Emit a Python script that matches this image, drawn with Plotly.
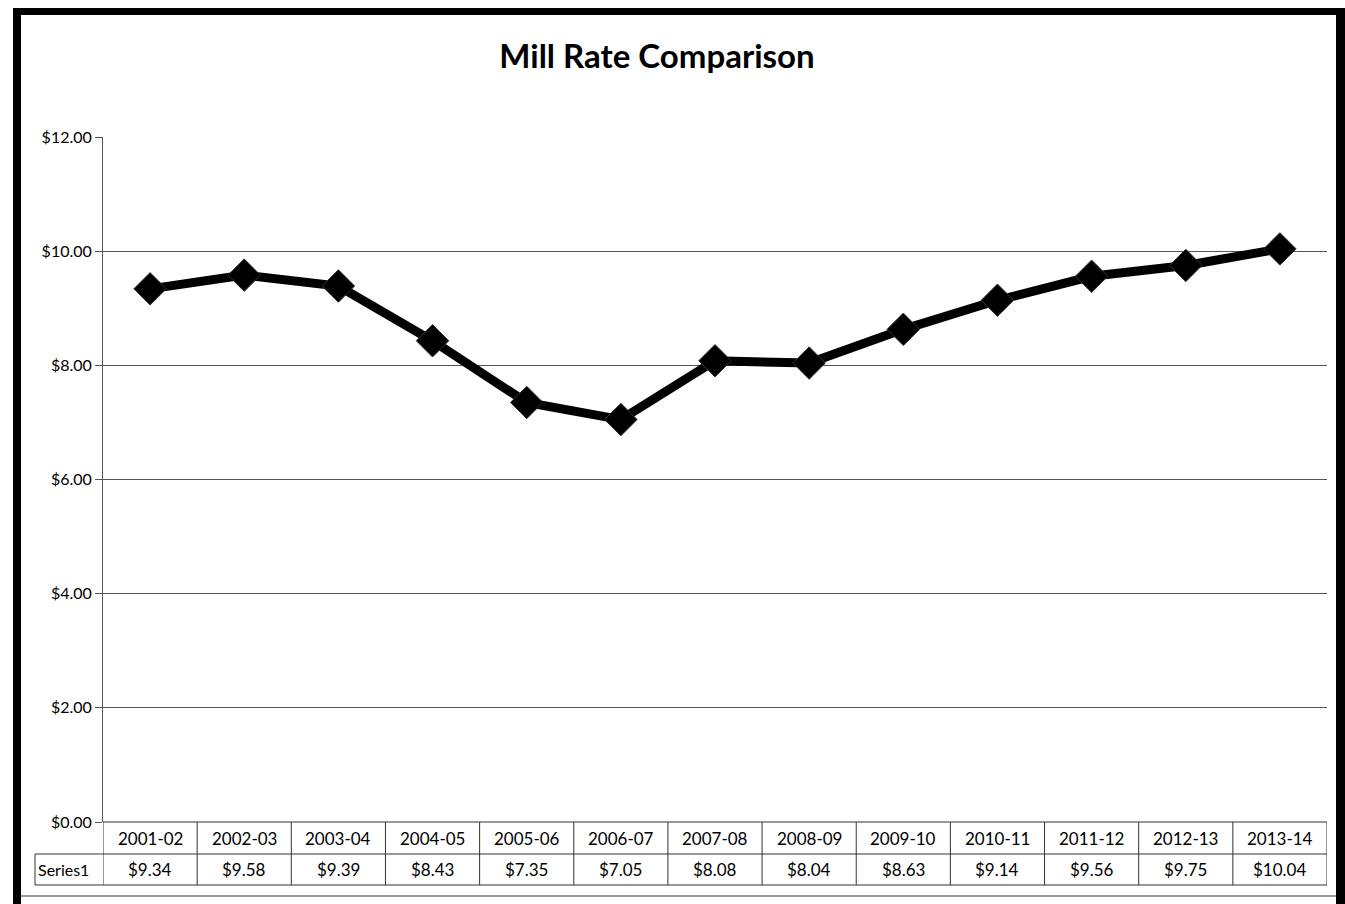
import plotly.graph_objects as go

categories = ["2001-02", "2002-03", "2003-04", "2004-05", "2005-06", "2006-07", "2007-08",
              "2008-09", "2009-10", "2010-11", "2011-12", "2012-13", "2013-14"]
values = [9.34, 9.58, 9.39, 8.43, 7.35, 7.05, 8.08, 8.04, 8.63, 9.14, 9.56, 9.75, 10.04]
series_name = "Series1"
title_text = "Mill Rate Comparison"
y_ticks = [0, 2, 4, 6, 8, 10, 12]

W, H = 1345, 904
L, R, T, B = 103, 18, 137, 82
PW, PH = W - L - R, H - T - B

def px(x):
    return (x - L) / PW

def py(y):
    return (H - B - y) / PH

FONT = "Lato"

fig = go.Figure()
fig.add_trace(go.Scatter(
    x=categories, y=values, mode="lines+markers",
    line=dict(color="black", width=9),
    marker=dict(symbol="diamond", size=25, color="black",
                line=dict(color="#333333", width=1)),
    showlegend=False, hoverinfo="x+y",
))

shapes = []
annotations = []
n = len(categories)
row1_top, row1_bot, row2_bot = H - B, 854, 885
LC = "#333"
shapes.append(dict(type="line", xref="x", yref="paper", x0=-0.5, x1=n - 0.5,
                   y0=py(row1_bot), y1=py(row1_bot), line=dict(color=LC, width=1)))
shapes.append(dict(type="line", xref="x", yref="paper", x0=-0.5, x1=n - 0.5,
                   y0=py(row2_bot), y1=py(row2_bot), line=dict(color=LC, width=1)))
shapes.append(dict(type="line", xref="x", yref="paper", x0=-0.5, x1=n - 0.5,
                   y0=0, y1=0, line=dict(color=LC, width=1)))
shapes.append(dict(type="line", xref="paper", yref="paper", x0=px(35), x1=0,
                   y0=py(row1_bot), y1=py(row1_bot), line=dict(color=LC, width=1)))
shapes.append(dict(type="line", xref="paper", yref="paper", x0=px(35), x1=0,
                   y0=py(row2_bot), y1=py(row2_bot), line=dict(color=LC, width=1)))
shapes.append(dict(type="line", xref="paper", yref="paper", x0=px(35), x1=px(35),
                   y0=py(row1_bot), y1=py(row2_bot), line=dict(color=LC, width=1)))
for k in range(n + 1):
    shapes.append(dict(type="line", xref="x", yref="paper", x0=k - 0.5, x1=k - 0.5,
                       y0=0, y1=py(row2_bot), line=dict(color=LC, width=1)))
for c, v in zip(categories, values):
    annotations.append(dict(x=c, xref="x", yref="paper", y=py((row1_top + row1_bot) / 2),
                            text=c, showarrow=False, font=dict(family=FONT, size=17, color="black"),
                            yanchor="middle"))
    annotations.append(dict(x=c, xref="x", yref="paper", y=py((row1_bot + row2_bot) / 2),
                            text=f"${v:.2f}", showarrow=False,
                            font=dict(family=FONT, size=17, color="black"), yanchor="middle"))
annotations.append(dict(x=px(36), xref="paper", yref="paper", y=py((row1_bot + row2_bot) / 2),
                        text=series_name, showarrow=False, xanchor="left",
                        font=dict(family=FONT, size=16, color="black"), yanchor="middle"))

# outer frame
shapes.append(dict(type="rect", xref="paper", yref="paper", x0=px(13), x1=px(21),
                   y0=py(8), y1=py(904), fillcolor="black", line=dict(width=0)))
shapes.append(dict(type="rect", xref="paper", yref="paper", x0=px(13), x1=px(1345),
                   y0=py(8), y1=py(15), fillcolor="black", line=dict(width=0)))
shapes.append(dict(type="rect", xref="paper", yref="paper", x0=px(1336), x1=px(1345),
                   y0=py(8), y1=py(904), fillcolor="black", line=dict(width=0)))
shapes.append(dict(type="line", xref="paper", yref="paper", x0=px(21), x1=px(1336),
                   y0=py(896), y1=py(896), line=dict(color="#999", width=2)))

fig.update_layout(
    width=W, height=H,
    margin=dict(l=L, r=R, t=T, b=B, pad=0),
    paper_bgcolor="white", plot_bgcolor="white",
    title=dict(text=f"<b>{title_text}</b>", x=657 / W, xanchor="center",
               y=1 - 56 / H, yanchor="middle",
               font=dict(family=FONT, size=33, color="black")),
    xaxis=dict(type="category", range=[-0.5, n - 0.5], showticklabels=False,
               showgrid=False, zeroline=False, showline=False, ticks=""),
    yaxis=dict(range=[0, 12], tickvals=y_ticks, tickformat="$.2f",
               showgrid=True, gridcolor="#555", gridwidth=1,
               zeroline=False, showline=True, linecolor="#555", linewidth=1,
               ticks="outside", ticklen=7, tickcolor="#555",
               tickfont=dict(family=FONT, size=16, color="black")),
    shapes=shapes, annotations=annotations,
    showlegend=False,
)

fig.write_html("out.html")
